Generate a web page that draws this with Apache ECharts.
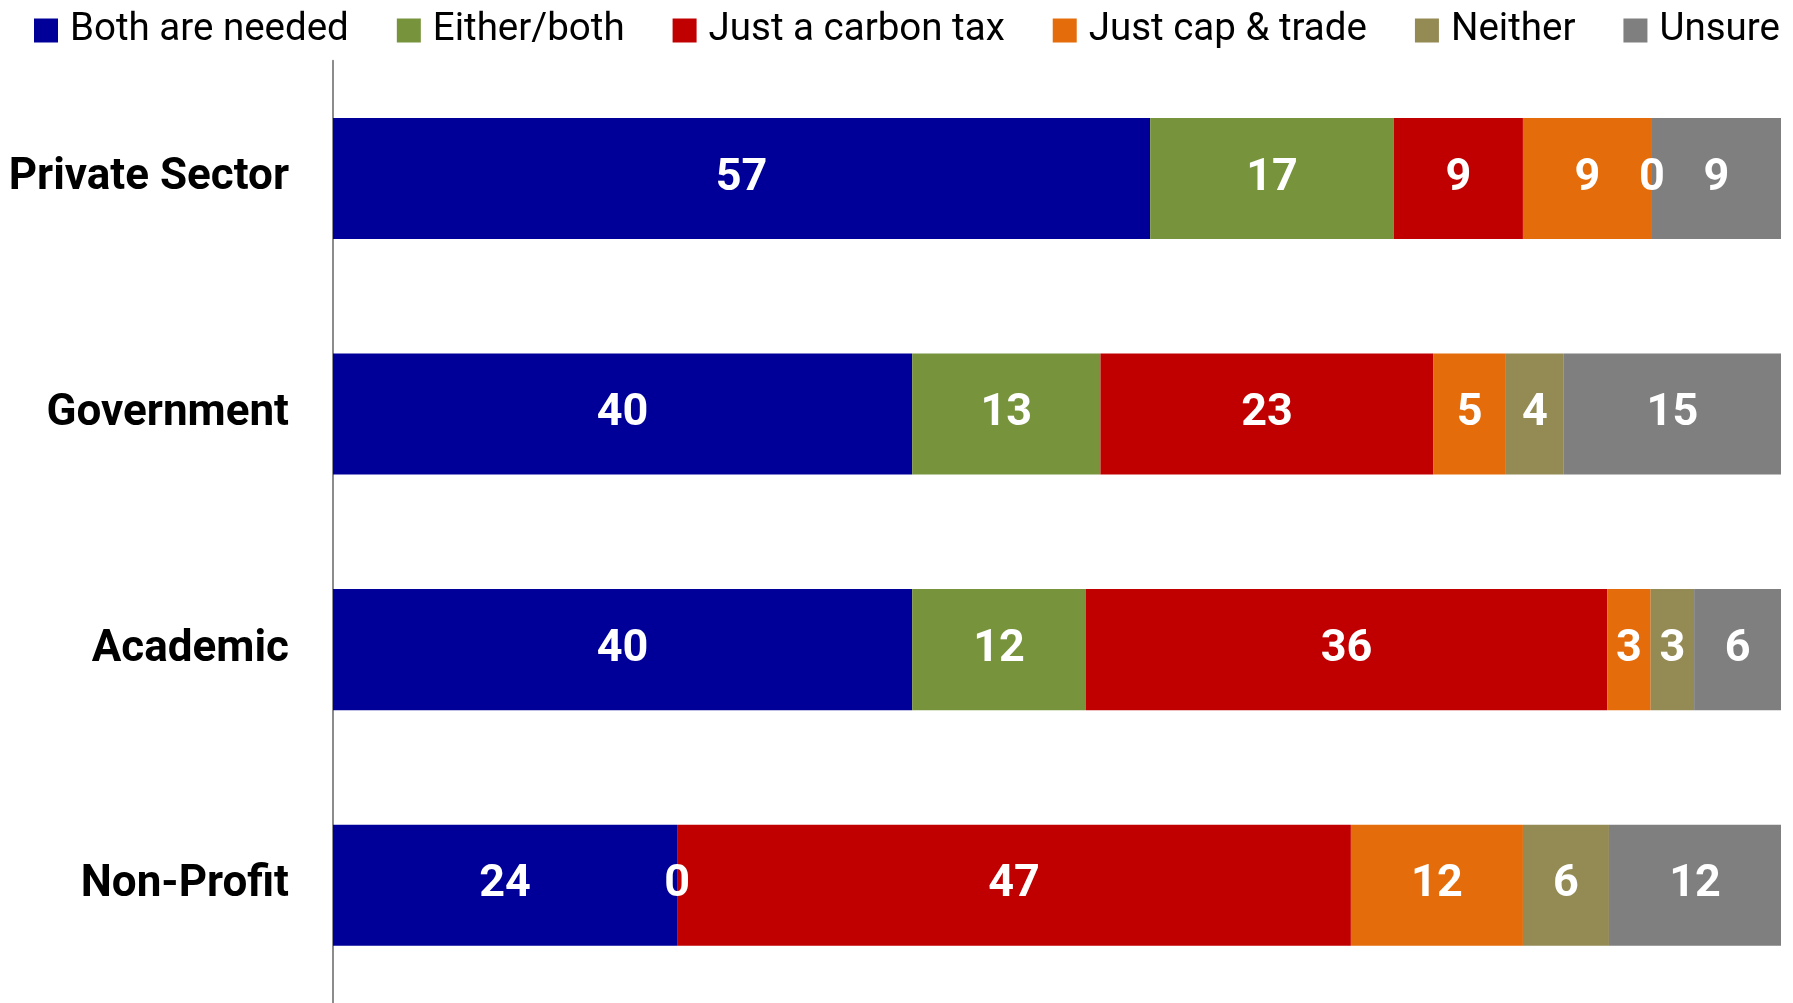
<!DOCTYPE html>
<html>
<head>
<meta charset="utf-8">
<script src="https://cdn.jsdelivr.net/npm/echarts@6/dist/echarts.min.js"></script>
<style>
html,body{margin:0;padding:0;background:#fff;}
#chart{width:1793px;height:1003px;}
</style>
</head>
<body>
<div id="chart"></div>
<script>
const categories = ['Private Sector', 'Government', 'Academic', 'Non-Profit'];
const seriesNames = ['Both are needed', 'Either/both', 'Just a carbon tax', 'Just cap & trade', 'Neither', 'Unsure'];
const bothNeeded   = [57, 40, 40, 24];
const eitherBoth   = [17, 13, 12, 0];
const carbonTax    = [9, 23, 36, 47];
const capTrade     = [9, 5, 3, 12];
const neither      = [0, 4, 3, 6];
const unsure       = [9, 15, 6, 12];
const colors = ['#000099', '#77933C', '#C00000', '#E46C0A', '#948A54', '#7F7F7F'];

const values = [bothNeeded, eitherBoth, carbonTax, capTrade, neither, unsure];
// 100% stacked: each bar's share of its category total
const totals = categories.map((_, j) => values.reduce((s, arr) => s + arr[j], 0));
const FONT = 'Roboto';

const chart = echarts.init(document.getElementById('chart'));
chart.setOption({
  animation: false,
  textStyle: { fontFamily: FONT },
  legend: {
    top: 6,
    left: 29,
    itemWidth: 24,
    itemHeight: 24,
    itemGap: 48,
    icon: 'rect',
    textStyle: { fontSize: 38.5, color: '#000', fontFamily: FONT, padding: [0, 0, 0, 7] },
    data: seriesNames
  },
  grid: { left: 333, right: 12, top: 60.7, bottom: -4 },
  xAxis: {
    type: 'value', min: 0, max: 100, show: false
  },
  yAxis: {
    type: 'category',
    data: categories,
    inverse: true,
    axisLine: { show: true, lineStyle: { color: '#8c8c8c', width: 2 } },
    axisTick: { show: false },
    axisLabel: { fontSize: 44, fontWeight: 'bold', color: '#000', margin: 44, fontFamily: FONT }
  },
  series: seriesNames.map((name, i) => ({
    name: name,
    type: 'bar',
    stack: 'total',
    barCategoryGap: '48.6%',
    data: values[i].map((v, j) => ({ value: v / totals[j] * 100, raw: v })),
    itemStyle: { color: colors[i] },
    label: {
      show: true,
      position: 'inside',
      color: '#fff',
      fontSize: 45,
      fontWeight: 'bold',
      fontFamily: FONT,
      formatter: p => String(p.data.raw)
    }
  }))
});
</script>
</body>
</html>
